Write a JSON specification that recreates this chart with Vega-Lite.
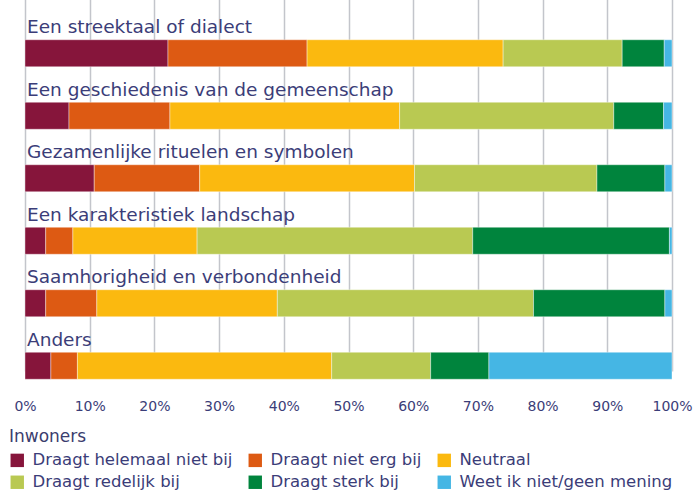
{
  "$schema": "https://vega.github.io/schema/vega-lite/v6.json",
  "width": 647,
  "height": 393,
  "autosize": {"type": "none"},
  "padding": {"left": 25, "right": 21, "top": 0, "bottom": 105},
  "background": "white",
  "config": {
    "view": {"stroke": null},
    "font": "DejaVu Sans"
  },
  "data": {
    "values": [
      {"cat": "Een streektaal of dialect", "antwoord": "Draagt helemaal niet bij", "v": 1, "pct": 22.1},
      {"cat": "Een streektaal of dialect", "antwoord": "Draagt niet erg bij", "v": 2, "pct": 21.5},
      {"cat": "Een streektaal of dialect", "antwoord": "Neutraal", "v": 3, "pct": 30.3},
      {"cat": "Een streektaal of dialect", "antwoord": "Draagt redelijk bij", "v": 4, "pct": 18.4},
      {"cat": "Een streektaal of dialect", "antwoord": "Draagt sterk bij", "v": 5, "pct": 6.5},
      {"cat": "Een streektaal of dialect", "antwoord": "Weet ik niet/geen mening", "v": 6, "pct": 1.2},
      {"cat": "Een geschiedenis van de gemeenschap", "antwoord": "Draagt helemaal niet bij", "v": 1, "pct": 6.8},
      {"cat": "Een geschiedenis van de gemeenschap", "antwoord": "Draagt niet erg bij", "v": 2, "pct": 15.6},
      {"cat": "Een geschiedenis van de gemeenschap", "antwoord": "Neutraal", "v": 3, "pct": 35.5},
      {"cat": "Een geschiedenis van de gemeenschap", "antwoord": "Draagt redelijk bij", "v": 4, "pct": 33.1},
      {"cat": "Een geschiedenis van de gemeenschap", "antwoord": "Draagt sterk bij", "v": 5, "pct": 7.7},
      {"cat": "Een geschiedenis van de gemeenschap", "antwoord": "Weet ik niet/geen mening", "v": 6, "pct": 1.3},
      {"cat": "Gezamenlijke rituelen en symbolen", "antwoord": "Draagt helemaal niet bij", "v": 1, "pct": 10.7},
      {"cat": "Gezamenlijke rituelen en symbolen", "antwoord": "Draagt niet erg bij", "v": 2, "pct": 16.3},
      {"cat": "Gezamenlijke rituelen en symbolen", "antwoord": "Neutraal", "v": 3, "pct": 33.2},
      {"cat": "Gezamenlijke rituelen en symbolen", "antwoord": "Draagt redelijk bij", "v": 4, "pct": 28.2},
      {"cat": "Gezamenlijke rituelen en symbolen", "antwoord": "Draagt sterk bij", "v": 5, "pct": 10.5},
      {"cat": "Gezamenlijke rituelen en symbolen", "antwoord": "Weet ik niet/geen mening", "v": 6, "pct": 1.1},
      {"cat": "Een karakteristiek landschap", "antwoord": "Draagt helemaal niet bij", "v": 1, "pct": 3.2},
      {"cat": "Een karakteristiek landschap", "antwoord": "Draagt niet erg bij", "v": 2, "pct": 4.2},
      {"cat": "Een karakteristiek landschap", "antwoord": "Neutraal", "v": 3, "pct": 19.2},
      {"cat": "Een karakteristiek landschap", "antwoord": "Draagt redelijk bij", "v": 4, "pct": 42.6},
      {"cat": "Een karakteristiek landschap", "antwoord": "Draagt sterk bij", "v": 5, "pct": 30.4},
      {"cat": "Een karakteristiek landschap", "antwoord": "Weet ik niet/geen mening", "v": 6, "pct": 0.4},
      {"cat": "Saamhorigheid en verbondenheid", "antwoord": "Draagt helemaal niet bij", "v": 1, "pct": 3.2},
      {"cat": "Saamhorigheid en verbondenheid", "antwoord": "Draagt niet erg bij", "v": 2, "pct": 7.9},
      {"cat": "Saamhorigheid en verbondenheid", "antwoord": "Neutraal", "v": 3, "pct": 27.9},
      {"cat": "Saamhorigheid en verbondenheid", "antwoord": "Draagt redelijk bij", "v": 4, "pct": 39.6},
      {"cat": "Saamhorigheid en verbondenheid", "antwoord": "Draagt sterk bij", "v": 5, "pct": 20.3},
      {"cat": "Saamhorigheid en verbondenheid", "antwoord": "Weet ik niet/geen mening", "v": 6, "pct": 1.1},
      {"cat": "Anders", "antwoord": "Draagt helemaal niet bij", "v": 1, "pct": 4.0},
      {"cat": "Anders", "antwoord": "Draagt niet erg bij", "v": 2, "pct": 4.1},
      {"cat": "Anders", "antwoord": "Neutraal", "v": 3, "pct": 39.3},
      {"cat": "Anders", "antwoord": "Draagt redelijk bij", "v": 4, "pct": 15.3},
      {"cat": "Anders", "antwoord": "Draagt sterk bij", "v": 5, "pct": 9.0},
      {"cat": "Anders", "antwoord": "Weet ik niet/geen mening", "v": 6, "pct": 28.3}
    ]
  },
  "encoding": {
    "y": {
      "field": "cat",
      "type": "nominal",
      "sort": ["Een streektaal of dialect", "Een geschiedenis van de gemeenschap", "Gezamenlijke rituelen en symbolen", "Een karakteristiek landschap", "Saamhorigheid en verbondenheid", "Anders"],
      "scale": {"range": [22, 397], "paddingInner": 0, "paddingOuter": 0},
      "axis": null
    }
  },
  "layer": [
    {
      "mark": {"type": "bar", "height": 27, "stroke": "white", "strokeWidth": 0.4},
      "encoding": {
        "x": {
          "field": "pct",
          "type": "quantitative",
          "stack": "zero",
          "scale": {"domain": [0, 100], "nice": false},
          "axis": {
            "title": null,
            "values": [0, 10, 20, 30, 40, 50, 60, 70, 80, 90, 100],
            "labelExpr": "datum.value + '%'",
            "domain": false,
            "ticks": false,
            "grid": true,
            "gridColor": "#c3c5cb",
            "gridWidth": 1.5,
            "labelFont": "DejaVu Sans",
            "labelFontSize": 14,
            "labelColor": "#3b3d78",
            "labelPadding": 6,
            "labelFlush": false
          }
        },
        "color": {
          "field": "antwoord",
          "type": "nominal",
          "sort": ["Draagt helemaal niet bij", "Draagt niet erg bij", "Neutraal", "Draagt redelijk bij", "Draagt sterk bij", "Weet ik niet/geen mening"],
          "scale": {
            "domain": ["Draagt helemaal niet bij", "Draagt niet erg bij", "Neutraal", "Draagt redelijk bij", "Draagt sterk bij", "Weet ik niet/geen mening"],
            "range": ["#86153b", "#dd5a13", "#fbb90f", "#b9c952", "#00843d", "#45b6e4"]
          },
          "legend": {
            "title": "Inwoners",
            "orient": "none",
            "direction": "horizontal",
            "legendX": -16,
            "legendY": 429,
            "columns": 3,
            "columnPadding": 14,
            "rowPadding": 5,
            "symbolType": "square",
            "symbolSize": 180,
            "symbolStrokeWidth": 0,
            "symbolOffset": 0,
            "labelOffset": 7,
            "labelFont": "DejaVu Sans",
            "labelFontSize": 16.5,
            "labelColor": "#3b3d78",
            "labelLimit": 400,
            "titleFont": "DejaVu Sans",
            "titleFontSize": 17,
            "titleFontWeight": "normal",
            "titleColor": "#3b3d6e",
            "titlePadding": 6
          }
        },
        "order": {"field": "v", "type": "quantitative", "sort": "ascending"}
      }
    },
    {
      "transform": [{"filter": "datum.v == 1"}],
      "mark": {"type": "text", "align": "left", "baseline": "middle", "dy": -26, "dx": 2, "font": "DejaVu Sans", "fontSize": 18.5, "color": "#3b3d78"},
      "encoding": {
        "x": {"datum": 0, "type": "quantitative"},
        "text": {"field": "cat", "type": "nominal"}
      }
    }
  ]
}
